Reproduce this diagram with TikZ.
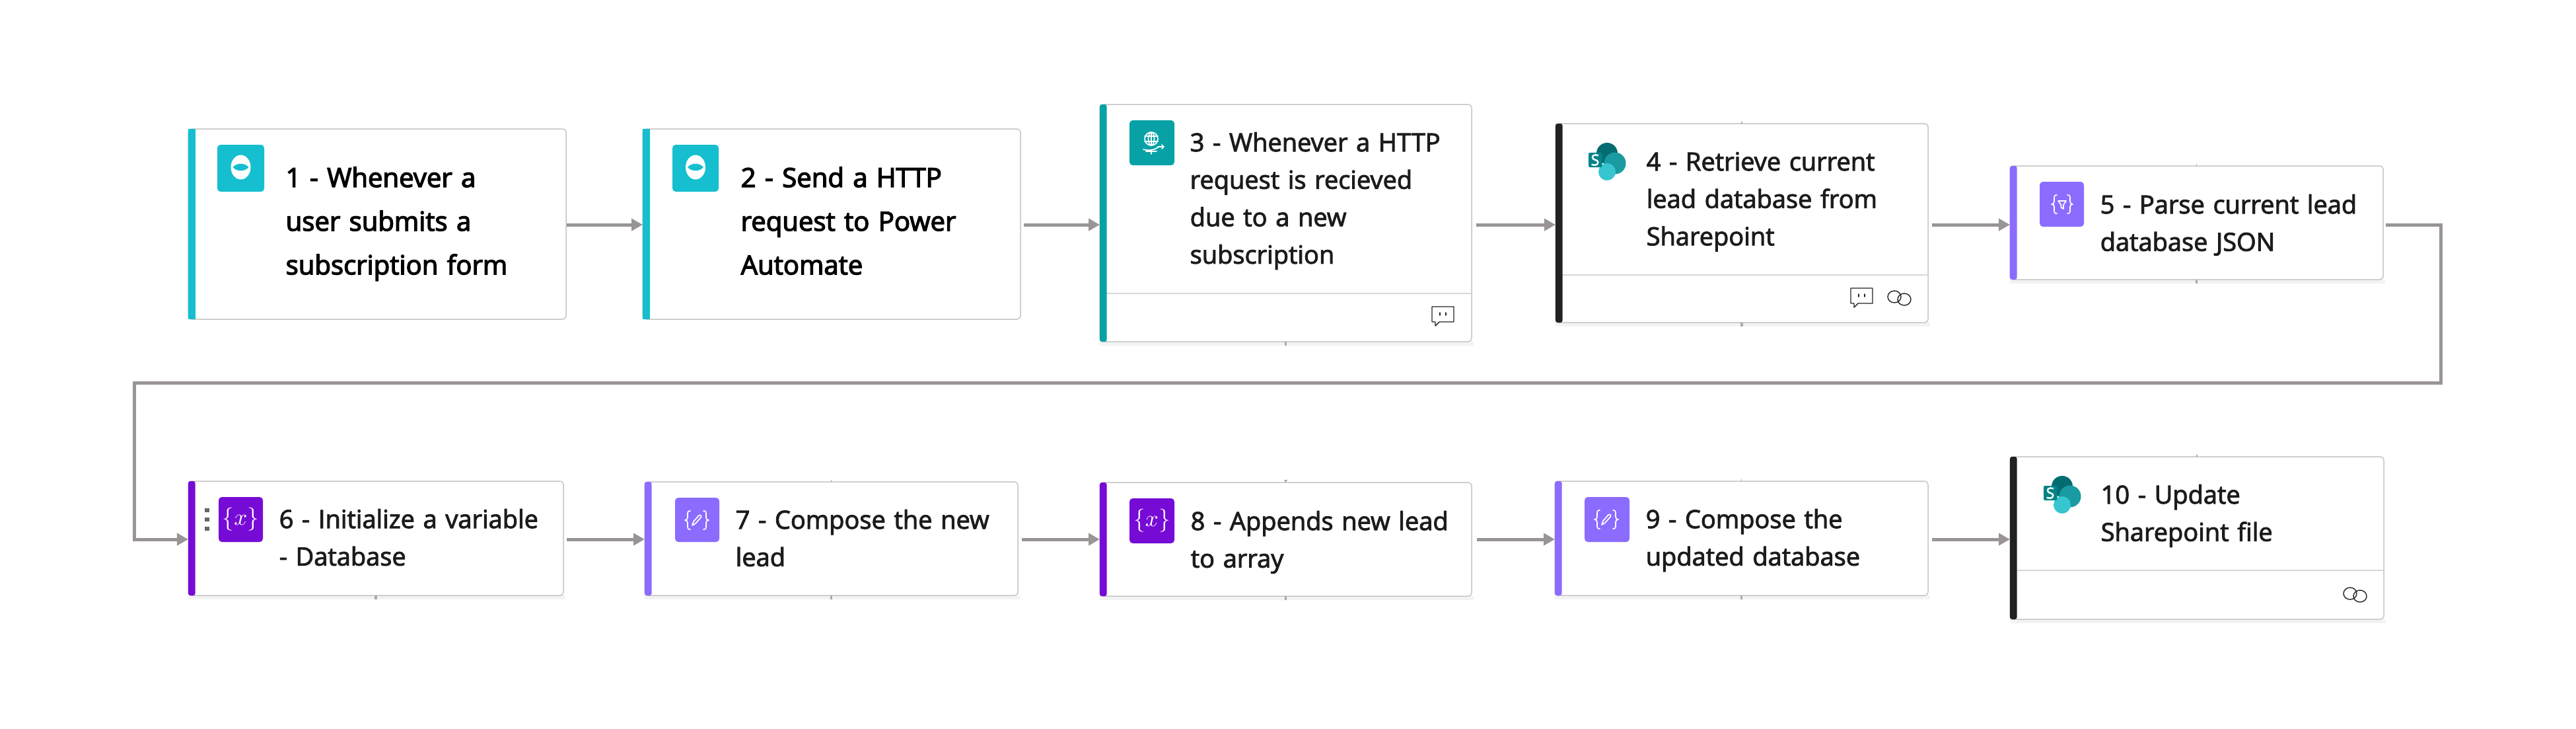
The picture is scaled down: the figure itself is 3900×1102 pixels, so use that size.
\documentclass[tikz,border=0pt]{standalone}
\usepackage{fontspec}
\usetikzlibrary{arrows.meta}
\setmainfont{Open Sans}
\newfontfamily\segfont[FakeBold=2.6]{Open Sans}
\newfontfamily\intfont[FakeBold=3.4]{Open Sans}
\definecolor{cTeal}{HTML}{15BFCF}
\definecolor{cHttp}{HTML}{08A2A6}
\definecolor{cBlack}{HTML}{222222}
\definecolor{cLilac}{HTML}{8C6CFF}
\definecolor{cVar}{HTML}{770BD6}
\definecolor{cArrow}{HTML}{9A9595}
\definecolor{cEdge}{HTML}{C6C6C6}
\definecolor{cStub}{HTML}{ABA9AC}
\definecolor{cInk}{HTML}{1C1C1C}
\definecolor{cShade}{HTML}{F3F3F3}
\definecolor{HTMLdark}{HTML}{036C70}
\definecolor{HTMLmid}{HTML}{1A9BA1}
\definecolor{HTMLlight}{HTML}{37C6D0}
\definecolor{HTMLsq}{HTML}{038387}
\tikzset{
  x=0.01cm,y=-0.01cm,
  cardbox/.style={draw=cEdge,line width=0.15mm,fill=white,rounded corners=0.05cm,inner sep=0pt,outer sep=0pt},
  flow/.style={draw=cArrow,line width=0.5mm,-{Triangle[length=1.7mm,width=1.8mm]}},
  stub/.style={draw=cStub,line width=0.35mm},
  tick/.style={draw=cStub,line width=0.12mm},
  segtext/.style={anchor=base west,inner sep=0pt,text width=4.6cm,align=left,text=cInk,font=\segfont\fontsize{10.8}{16.1}\selectfont},
  inttext/.style={anchor=base west,inner sep=0pt,text width=4.6cm,align=left,text=black,font=\intfont\fontsize{11.4}{18.8}\selectfont},
  iconline/.style={draw=white,line width=0.17mm,line cap=round,line join=round},
  smallline/.style={draw=cBlack,line width=0.14mm,line cap=round,line join=round},
}
\newcommand{\card}[6]{%
  \fill[cShade] (#2,#5) rectangle (#4+3,#5+6);
  \node[cardbox,minimum width={(#4-#2)*0.01cm},minimum height={(#5-#3)*0.01cm}] (#1) at ({(#2+#4)/2},{(#3+#5)/2}) {};
  \fill[#6,rounded corners=0.03cm] (#2,#3) rectangle (#2+10.5,#5);
}
\newcommand{\plaincard}[6]{%
  \node[cardbox,minimum width={(#4-#2)*0.01cm},minimum height={(#5-#3)*0.01cm}] (#1) at ({(#2+#4)/2},{(#3+#5)/2}) {};
  \fill[#6] (#2,#3) rectangle (#2+11,#5);
}
\newcommand{\tile}[5]{\fill[#5,rounded corners=0.05cm] (#1,#2) rectangle (#3,#4);}
\newcommand{\formsglyph}[2]{%
  \fill[white] (#1,#2) ellipse [x radius=15,y radius=18.5];
  \fill[cTeal] (#1-12,#2) .. controls (#1-6,#2-7) and (#1+6,#2-7) .. (#1+12,#2) .. controls (#1+6,#2+7) and (#1-6,#2+7) .. cycle;
}
\newcommand{\curly}[3]{%
  \draw[iconline] (#1-#3+4,#2-14) .. controls (#1-#3,#2-14) and (#1-#3,#2-12) .. (#1-#3,#2-8) -- (#1-#3,#2-4) .. controls (#1-#3,#2-1) and (#1-#3-2,#2) .. (#1-#3-4,#2) .. controls (#1-#3-2,#2) and (#1-#3,#2+1) .. (#1-#3,#2+4) -- (#1-#3,#2+8) .. controls (#1-#3,#2+12) and (#1-#3,#2+14) .. (#1-#3+4,#2+14);
  \draw[iconline] (#1+#3-4,#2-14) .. controls (#1+#3,#2-14) and (#1+#3,#2-12) .. (#1+#3,#2-8) -- (#1+#3,#2-4) .. controls (#1+#3,#2-1) and (#1+#3+2,#2) .. (#1+#3+4,#2) .. controls (#1+#3+2,#2) and (#1+#3,#2+1) .. (#1+#3,#2+4) -- (#1+#3,#2+8) .. controls (#1+#3,#2+12) and (#1+#3,#2+14) .. (#1+#3-4,#2+14);
}
\newcommand{\pencil}[2]{%
  \draw[iconline] (#1-7,#2+8) -- (#1-5,#2+2) -- (#1+3,#2-7) .. controls (#1+5,#2-9) and (#1+8,#2-6) .. (#1+6,#2-4) -- (#1-2,#2+5) -- cycle;
}
\newcommand{\funnel}[2]{%
  \draw[iconline] (#1-6,#2-5) -- (#1+6,#2-5) -- (#1+2,#2+1) -- (#1+2,#2+7) -- (#1-1.5,#2+5) -- (#1-1.5,#2+1) -- cycle;
}
\newcommand{\sharept}[2]{%
  \fill[HTMLdark] (#1+28,#2+15) circle [radius=16];
  \fill[HTMLmid] (#1+40,#2+30) circle [radius=16.5];
  \fill[HTMLlight] (#1+28,#2+43) circle [radius=13];
  \fill[HTMLsq,rounded corners=0.02cm] (#1,#2+14) rectangle (#1+20.5,#2+36);
  \node[text=white,inner sep=0pt,font=\segfont\fontsize{6.6}{8}\selectfont] at (#1+10,#2+25) {S};
}
\newcommand{\comment}[2]{%
  \draw[smallline] (#1,#2) -- (#1+33,#2) -- (#1+33,#2+23) -- (#1+11,#2+23) -- (#1+5,#2+29) -- (#1+5,#2+23) -- (#1,#2+23) -- cycle;
  \draw[smallline] (#1+12,#2+9) -- (#1+12,#2+13) (#1+21,#2+9) -- (#1+21,#2+13);
}
\newcommand{\linkicon}[2]{%
  \draw[smallline] (#1+10,#2+10) ellipse [x radius=10,y radius=9];
  \draw[smallline] (#1+25,#2+14) ellipse [x radius=10,y radius=9];
}
\begin{document}
\begin{tikzpicture}
\useasboundingbox (0,0) rectangle (3900,1102);
\fill[white] (0,0) rectangle (3900,1102);
\coordinate (rowA) at (0,340);
\coordinate (rowB) at (0,816);
\coordinate (lane) at (0,579);
\coordinate (rightlane) at (3695,0);
\coordinate (leftlane) at (203,0);

\plaincard{c1}{285}{195}{857}{483}{cTeal}
\plaincard{c2}{973}{195}{1545}{483}{cTeal}
\card{c3}{1665}{158}{2228}{517}{cHttp}
\card{c4}{2355}{187}{2919}{488}{cBlack}
\card{c5}{3043}{251}{3608}{423}{cLilac}
\card{c6}{285}{728}{853}{901}{cVar}
\card{c7}{976}{729}{1541}{901}{cLilac}
\card{c8}{1665}{730}{2228}{902}{cVar}
\card{c9}{2354}{728}{2919}{901}{cLilac}
\card{c10}{3043}{691}{3609}{937}{cBlack}

\foreach \c in {c3,c4,c5,c6,c7,c8,c9}{\draw[stub] (\c.south) -- ++(0,6);}
\foreach \c in {c4,c5,c7,c9,c10}{\draw[tick] (\c.north) -- ++(0,-3);}
\fill[cStub] ([xshift=-0.03cm,yshift=0.04cm]c8.north) -- ([xshift=0.03cm,yshift=0.04cm]c8.north) -- (c8.north) -- cycle;

\draw[cEdge!70,line width=0.15mm] (1676,444) -- (c3.east |- 0,444);
\draw[cEdge!70,line width=0.15mm] (2366,416) -- (c4.east |- 0,416);
\draw[cEdge!70,line width=0.15mm] (3054,863) -- (c10.east |- 0,863);

\draw[flow,shorten <=0.01cm] (c1.east |- rowA) -- (c2.west |- rowA);
\draw[flow,shorten <=0.05cm] (c2.east |- rowA) -- (c3.west |- rowA);
\draw[flow,shorten <=0.07cm] (c3.east |- rowA) -- (c4.west |- rowA);
\draw[flow,shorten <=0.06cm] (c4.east |- rowA) -- (c5.west |- rowA);
\draw[flow,shorten <=0.04cm]
  (c5.east |- rowA) -- (rightlane |- rowA) -- (rightlane |- lane) -- (leftlane |- lane) -- (leftlane |- rowB) -- (c6.west |- rowB);
\draw[flow,shorten <=0.05cm] (c6.east |- rowB) -- (c7.west |- rowB);
\draw[flow,shorten <=0.06cm] (c7.east |- rowB) -- (c8.west |- rowB);
\draw[flow,shorten <=0.08cm] (c8.east |- rowB) -- (c9.west |- rowB);
\draw[flow,shorten <=0.06cm] (c9.east |- rowB) -- (c10.west |- rowB);

\tile{329}{219}{400}{290}{cTeal} \formsglyph{364.5}{253}
\tile{1018}{219}{1088}{290}{cTeal} \formsglyph{1053}{253}
\tile{1710}{182}{1778}{250}{cHttp}
\draw[iconline] (1743,210) circle [radius=10];
\draw[iconline] (1743,210) ellipse [x radius=4.5,y radius=10];
\draw[iconline] (1733,206) -- (1753,206) (1733,214) -- (1753,214) (1743,200) -- (1743,220);
\draw[iconline] (1731,226) .. controls (1737,228) and (1748,228) .. (1754,222);
\draw[iconline] (1743,227) -- (1743,233) (1735,229) -- (1751,229);
\draw[iconline] (1753,222) -- (1762,222) (1759,219) -- (1762,222) -- (1759,225);

\sharept{2405}{217}
\comment{2168}{464}
\comment{2802}{436}
\linkicon{2858}{439}

\tile{3088}{275}{3155}{343}{cLilac} \curly{3122}{309}{12} \funnel{3122}{309}

\foreach \d in {769,783,797}{\fill[black!60] (310,\d) rectangle (317,\d+6);}
\tile{331}{752}{398}{820}{cVar}
\node[text=white,inner sep=0pt,font=\fontsize{9.6}{11}\selectfont] (ic6) at (364.5,786) {$\{x\}$};
\tile{1022}{753}{1089}{820}{cLilac} \curly{1055}{787}{14} \pencil{1055}{787}
\tile{1710}{754}{1778}{822}{cVar}
\node[text=white,inner sep=0pt,font=\fontsize{9.6}{11}\selectfont] (ic8) at (1744,788) {$\{x\}$};
\tile{2399}{752}{2467}{820}{cLilac} \curly{2432}{786}{14} \pencil{2432}{786}
\sharept{3094}{721}
\linkicon{3548}{888}

\node[inttext] (t1) at (432,283) {1 - Whenever a\\user submits a\\subscription form};
\node[inttext] (t2) at (1121,283) {2 - Send a HTTP\\request to Power\\Automate};
\node[segtext] (t3) at (1801,229) {3 - Whenever a HTTP\\request is recieved\\due to a new\\subscription};
\node[segtext] (t4) at (2492,258) {4 - Retrieve current\\lead database from\\Sharepoint};
\node[segtext] (t5) at (3179,323) {5 - Parse current lead\\database JSON};
\node[segtext] (t6) at (422,799) {6 - Initialize a variable\\- Database};
\node[segtext] (t7) at (1113,800) {7 - Compose the new\\lead};
\node[segtext] (t8) at (1802,802) {8 - Appends new lead\\to array};
\node[segtext] (t9) at (2491,799) {9 - Compose the\\updated database};
\node[segtext] (t10) at (3180,762) {10 - Update\\Sharepoint file};
\end{tikzpicture}
\end{document}
